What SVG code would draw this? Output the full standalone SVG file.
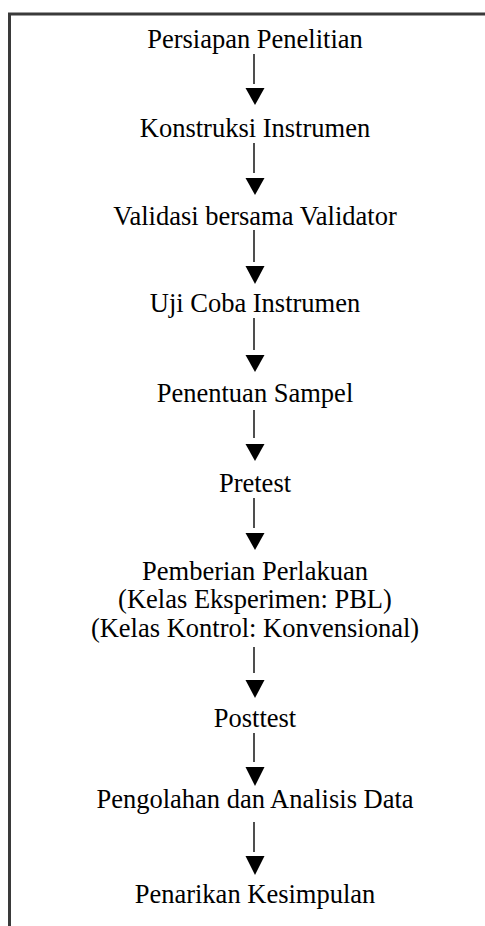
<svg xmlns="http://www.w3.org/2000/svg" width="485" height="926" viewBox="0 0 485 926">
<style>
.t{font-family:"Liberation Serif","Times New Roman",serif;font-size:26.5px;fill:#000;text-anchor:middle}
.ln{stroke:#222;stroke-width:1.6;fill:none}
.hd{fill:#000}
</style>
<rect x="0" y="0" width="485" height="926" fill="#fff"/>
<path d="M9.5,926 V14 H485" fill="none" stroke="#3a3a3a" stroke-width="3"/>
<g id="n1"><text class="t" x="255" y="48">Persiapan Penelitian</text></g>
<g id="n2"><text class="t" x="255" y="137">Konstruksi Instrumen</text></g>
<g id="n3"><text class="t" x="255" y="225">Validasi bersama Validator</text></g>
<g id="n4"><text class="t" x="255" y="312">Uji Coba Instrumen</text></g>
<g id="n5"><text class="t" x="255" y="402">Penentuan Sampel</text></g>
<g id="n6"><text class="t" x="255" y="492">Pretest</text></g>
<g id="n7"><text class="t" x="255" y="580">Pemberian Perlakuan</text><text class="t" x="255" y="608">(Kelas Eksperimen: PBL)</text><text class="t" x="255" y="637">(Kelas Kontrol: Konvensional)</text></g>
<g id="n8"><text class="t" x="255" y="727">Posttest</text></g>
<g id="n9"><text class="t" x="255" y="808">Pengolahan dan Analisis Data</text></g>
<g id="n10"><text class="t" x="255" y="903">Penarikan Kesimpulan</text></g>
<g id="connectors">
<line class="ln" x1="254" y1="54" x2="254" y2="84"/><polygon class="hd" points="245.5,88 264.5,88 255,105"/>
<line class="ln" x1="254" y1="143" x2="254" y2="173"/><polygon class="hd" points="245.5,178 264.5,178 255,195"/>
<line class="ln" x1="254" y1="230" x2="254" y2="262"/><polygon class="hd" points="245.5,266 264.5,266 255,284"/>
<line class="ln" x1="254" y1="318" x2="254" y2="350"/><polygon class="hd" points="245.5,355 264.5,355 255,372"/>
<line class="ln" x1="254" y1="410" x2="254" y2="438"/><polygon class="hd" points="245.5,444 264.5,444 255,461"/>
<line class="ln" x1="254" y1="498" x2="254" y2="528"/><polygon class="hd" points="245.5,533 264.5,533 255,550"/>
<line class="ln" x1="254" y1="647" x2="254" y2="673"/><polygon class="hd" points="245.5,680 264.5,680 255,698"/>
<line class="ln" x1="254" y1="733" x2="254" y2="762"/><polygon class="hd" points="245.5,767 264.5,767 255,786"/>
<line class="ln" x1="254" y1="822" x2="254" y2="852"/><polygon class="hd" points="245.5,856 264.5,856 255,875"/>
</g>
</svg>
